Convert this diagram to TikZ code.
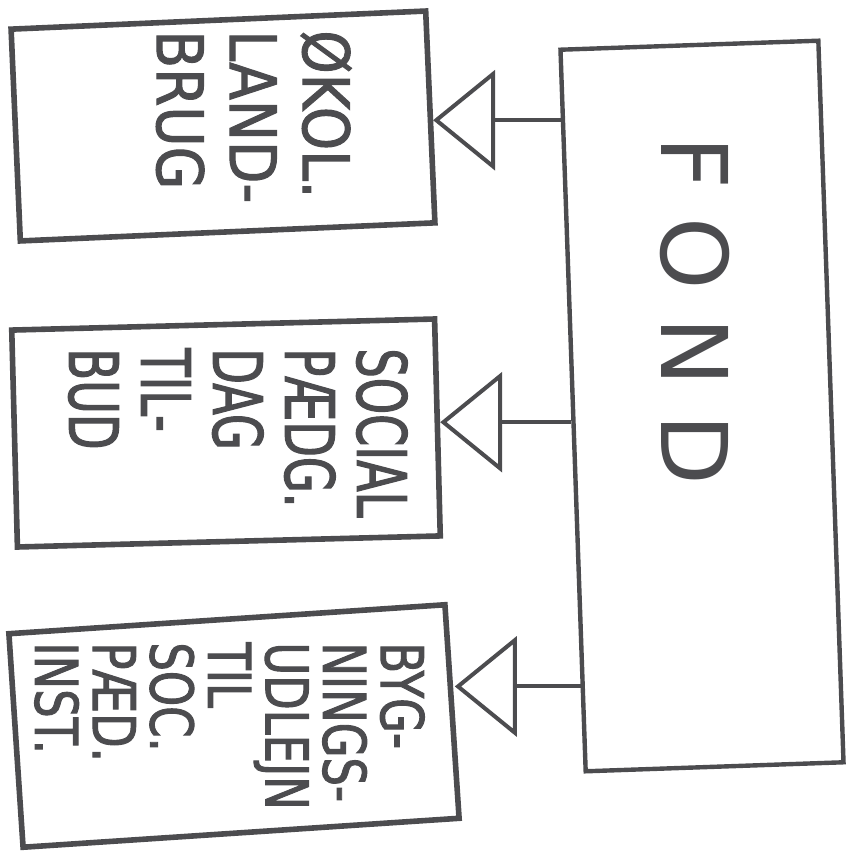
\documentclass[tikz,border=0pt]{standalone}
\usepackage{fontspec}
\setmainfont{DejaVu Sans}
\newfontfamily\handfont[FakeStretch=0.86,FakeBold=1.6]{DejaVu Sans}
\newfontfamily\narrowhand[FakeStretch=0.68,FakeBold=1.6]{DejaVu Sans}
\newfontfamily\smallhand[FakeStretch=0.76,FakeBold=1.6]{DejaVu Sans}
\usetikzlibrary{arrows.meta,calc}
\definecolor{pen}{HTML}{4C4C4F}

\begin{document}
\begin{tikzpicture}[x=0.5pt,y=-0.5pt,
  box/.style={draw=pen, line width=2.8pt, inner sep=0pt},
  isa/.style={draw=pen, line width=2pt, -{Triangle[open,length=31pt,width=50pt]}},
  handtext/.style={text=pen, rotate=-90, anchor=north west, inner sep=0pt, align=left}]

  \useasboundingbox (0,0) rectangle (850,861);

  % Draw the fund box
  \node[box, line width=2.2pt, minimum width=129pt, minimum height=361pt, rotate=2] (fond) at (702,406) {};
  \node[handtext, anchor=center, font=\fontsize{46}{46}\selectfont] (fondtext) at (695,311) {F\hspace{14pt}O\hspace{14pt}N\hspace{14pt}D};

  % Draw the three activities
  \node[box, minimum width=207.5pt, minimum height=106pt, rotate=2.5] (okol) at (223,126) {};
  \node[handtext, font=\handfont\fontsize{32}{36.5}\selectfont] (okoltext) at (352,30) {ØKOL.\\LAND-\\BRUG};

  \node[box, minimum width=211.5pt, minimum height=108.5pt, rotate=1.5] (social) at (226,433) {};
  \node[handtext, font=\narrowhand\fontsize{34}{36}\selectfont] (socialtext) at (408,348) {SOCIAL\\PÆDG.\\DAG\\TIL-\\BUD};

  \node[box, minimum width=218.5pt, minimum height=107pt, rotate=3.8] (bygning) at (234,726) {};
  \node[handtext, font=\smallhand\fontsize{29.5}{28.8}\selectfont] (bygningtext) at (425,642) {BYG-\\NINGS-\\UDLEJN\\TIL\\SOC.\\PÆD.\\INST.};

  % Draw the connectors with open triangles
  \coordinate (f1) at ($(fond.north west)!0.1!(fond.south west)$);
  \coordinate (f2) at ($(fond.north west)!0.516!(fond.south west)$);
  \coordinate (f3) at ($(fond.north west)!0.88!(fond.south west)$);

  \draw[isa] (f1) -- (okol.east |- f1);
  \draw[isa] (f2) -- (social.east |- f2);
  \draw[isa] (f3) -- (bygning.east |- f3);

\end{tikzpicture}
\end{document}
